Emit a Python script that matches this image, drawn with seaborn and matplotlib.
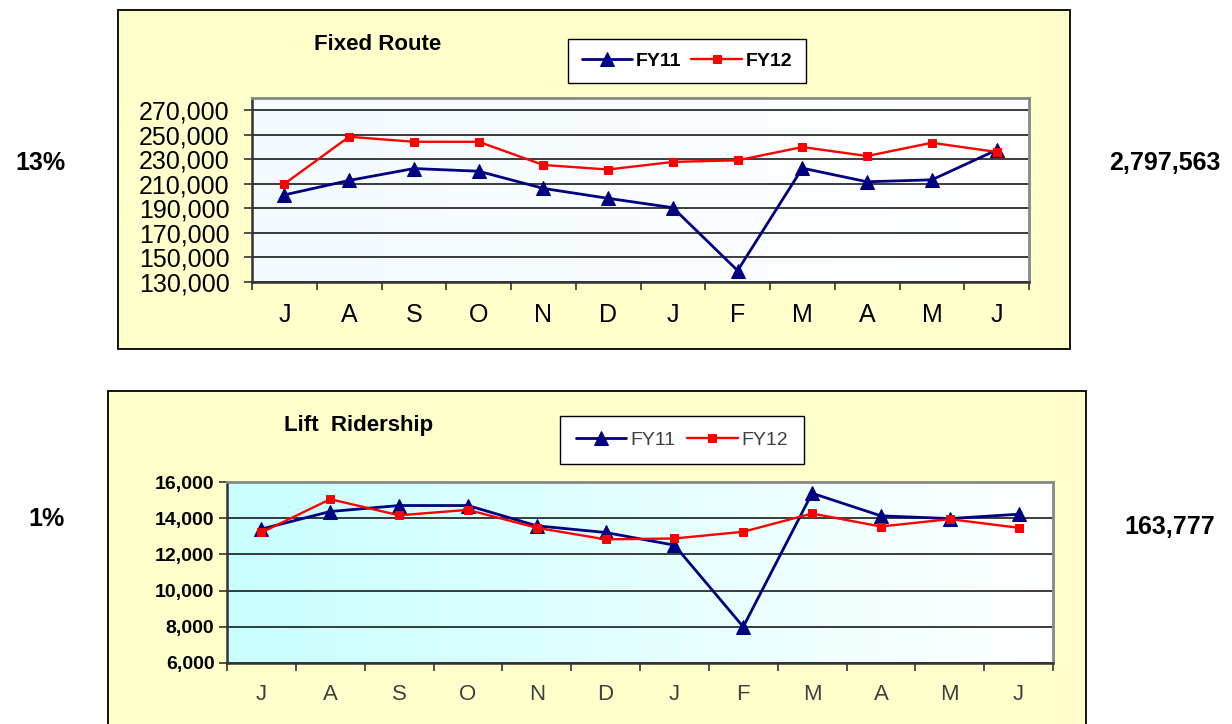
import numpy as np
import pandas as pd
import matplotlib
matplotlib.use('Agg')
import matplotlib.pyplot as plt
from matplotlib.patches import Rectangle
from matplotlib.colors import LinearSegmentedColormap
import seaborn as sns

# month labels (July .. June)
months = ['J', 'A', 'S', 'O', 'N', 'D', 'J', 'F', 'M', 'A', 'M', 'J']

# Fixed Route ridership
fixed_fy11 = [201000, 212800, 222500, 220300, 206300, 198200, 190600, 139300, 222800, 211700, 213300, 237600]
fixed_fy12 = [210000, 248400, 244300, 244300, 225400, 221700, 227900, 229200, 240000, 232700, 243500, 236000]
fixed_ticks = [130000, 150000, 170000, 190000, 210000, 230000, 250000, 270000]

# Lift ridership
lift_fy11 = [13400, 14370, 14700, 14700, 13580, 13210, 12510, 8000, 15380, 14130, 13980, 14220]
lift_fy12 = [13210, 15050, 14160, 14460, 13470, 12830, 12880, 13250, 14260, 13540, 13950, 13470]
lift_ticks = [6000, 8000, 10000, 12000, 14000, 16000]

side_text = {'fixed': ('13%', '2,797,563'), 'lift': ('1%', '163,777')}

sns.set_style('ticks')
plt.rcParams['font.family'] = ['Liberation Sans', 'DejaVu Sans']
plt.rcParams['text.color'] = 'black'
plt.rcParams['xtick.color'] = 'black'
plt.rcParams['ytick.color'] = 'black'
plt.rcParams['xtick.labelcolor'] = 'black'
plt.rcParams['ytick.labelcolor'] = 'black'
narrow = ['Liberation Sans Narrow', 'Liberation Sans', 'DejaVu Sans']

W, H = 1232, 724
fig = plt.figure(figsize=(W / 100, H / 100), dpi=100)
fig.patch.set_facecolor('white')


def box(x0, y0, x1, y1):
    # pixel coords from top-left -> figure fraction
    fig.add_artist(Rectangle((x0 / W, 1 - y1 / H), (x1 - x0) / W, (y1 - y0) / H,
                             transform=fig.transFigure, facecolor='#ffffcc',
                             edgecolor='black', lw=1.3, zorder=-1))


def make_ax(x0, y0, x1, y1):
    return fig.add_axes([x0 / W, 1 - y1 / H, (x1 - x0) / W, (y1 - y0) / H])


def draw(ax, fy11, fy12, ticks, ylim, c0, tri=10, sq=5.5):
    pos = np.arange(len(months))
    grad = np.linspace(0, 1, 256).reshape(1, -1)
    cmap = LinearSegmentedColormap.from_list('bg', [c0, '#ffffff'])
    ax.imshow(grad, extent=[0, 1, 0, 1], transform=ax.transAxes, cmap=cmap,
              aspect='auto', zorder=0)
    sns.lineplot(x=pos, y=fy11, marker='^', color='#000080', lw=2.0,
                 markersize=tri, markeredgecolor='#000080', label='FY11', ax=ax, zorder=3)
    sns.lineplot(x=pos, y=fy12, marker='s', color='#ff0000', lw=1.7,
                 markersize=sq, markeredgecolor='#ff0000', label='FY12', ax=ax, zorder=4)
    ax.set_xlim(-0.5, len(months) - 0.5)
    ax.set_ylim(*ylim)
    ax.set_yticks(ticks)
    ax.set_yticklabels([f'{t:,}' for t in ticks])
    ax.grid(axis='y', color='#1a1a1a', lw=1.2)
    ax.set_axisbelow(True)
    ax.set_xticks(pos)
    ax.set_xticklabels(months)
    ax.set_xticks(np.arange(-0.5, len(months), 1), minor=True)
    ax.tick_params(axis='x', which='major', length=0)
    ax.tick_params(axis='x', which='minor', length=6, width=1.2, color='#333333', direction='out')
    ax.tick_params(axis='y', length=6, width=1.2, color='#333333', direction='out')
    for s in ['top', 'right']:
        ax.spines[s].set_color('#888888')
        ax.spines[s].set_linewidth(2)
    for s in ['left', 'bottom']:
        ax.spines[s].set_color('#333333')
        ax.spines[s].set_linewidth(1.8)
    ax.set_xlabel('')
    ax.set_ylabel('')


# ---- Fixed Route ----
box(118, 10, 1070, 349)
ax1 = make_ax(252, 98, 1029, 282)
draw(ax1, fixed_fy11, fixed_fy12, fixed_ticks, (130000, 280000), '#f3fbff')
ax1.tick_params(axis='y', labelsize=18, pad=10)
ax1.tick_params(axis='x', labelsize=18, pad=15)
leg = ax1.legend(loc='center', bbox_to_anchor=(687 / W, 1 - 61 / H), bbox_transform=fig.transFigure,
                 ncol=2, frameon=True, fancybox=False, edgecolor='black', framealpha=1,
                 handlelength=2.6, columnspacing=0.5, handletextpad=0.2, borderpad=0.7,
                 prop={'size': 14, 'weight': 'bold'})
leg.get_frame().set_linewidth(1.0)
fig.text(378 / W, 1 - 44 / H, 'Fixed Route', ha='center', va='center', fontsize=16, fontweight='bold')

# ---- Lift Ridership ----
box(108, 391, 1086, 730)
ax2 = make_ax(227, 482, 1053, 663)
draw(ax2, lift_fy11, lift_fy12, lift_ticks, (6000, 16000), '#c8ffff')
for lab in ax2.get_yticklabels():
    lab.set_fontweight('bold')
    lab.set_fontsize(14)
ax2.tick_params(axis='y', pad=3)
for lab in ax2.get_xticklabels():
    lab.set_family(narrow)
    lab.set_fontsize(16)
    lab.set_color('#404040')
ax2.tick_params(axis='x', pad=15)
leg = ax2.legend(loc='center', bbox_to_anchor=(682 / W, 1 - 440 / H), bbox_transform=fig.transFigure,
                 ncol=2, frameon=True, fancybox=False, edgecolor='black', framealpha=1,
                 handlelength=2.6, columnspacing=0.6, handletextpad=0.2, borderpad=0.8,
                 prop={'size': 14, 'family': narrow})
leg.get_frame().set_linewidth(1.0)
for t in leg.get_texts():
    t.set_color('#404040')
fig.text(359 / W, 1 - 425 / H, 'Lift  Ridership', ha='center', va='center', fontsize=16, fontweight='bold')

# ---- side figures ----
fig.text(40 / W, 1 - 163 / H, side_text['fixed'][0], ha='center', va='center', fontsize=18, fontweight='bold')
fig.text(46 / W, 1 - 519 / H, side_text['lift'][0], ha='center', va='center', fontsize=18, fontweight='bold')
fig.text(1165 / W, 1 - 163 / H, side_text['fixed'][1], ha='center', va='center', fontsize=18, fontweight='bold')
fig.text(1170 / W, 1 - 527 / H, side_text['lift'][1], ha='center', va='center', fontsize=18, fontweight='bold')

fig.savefig('out.png', dpi=100)
